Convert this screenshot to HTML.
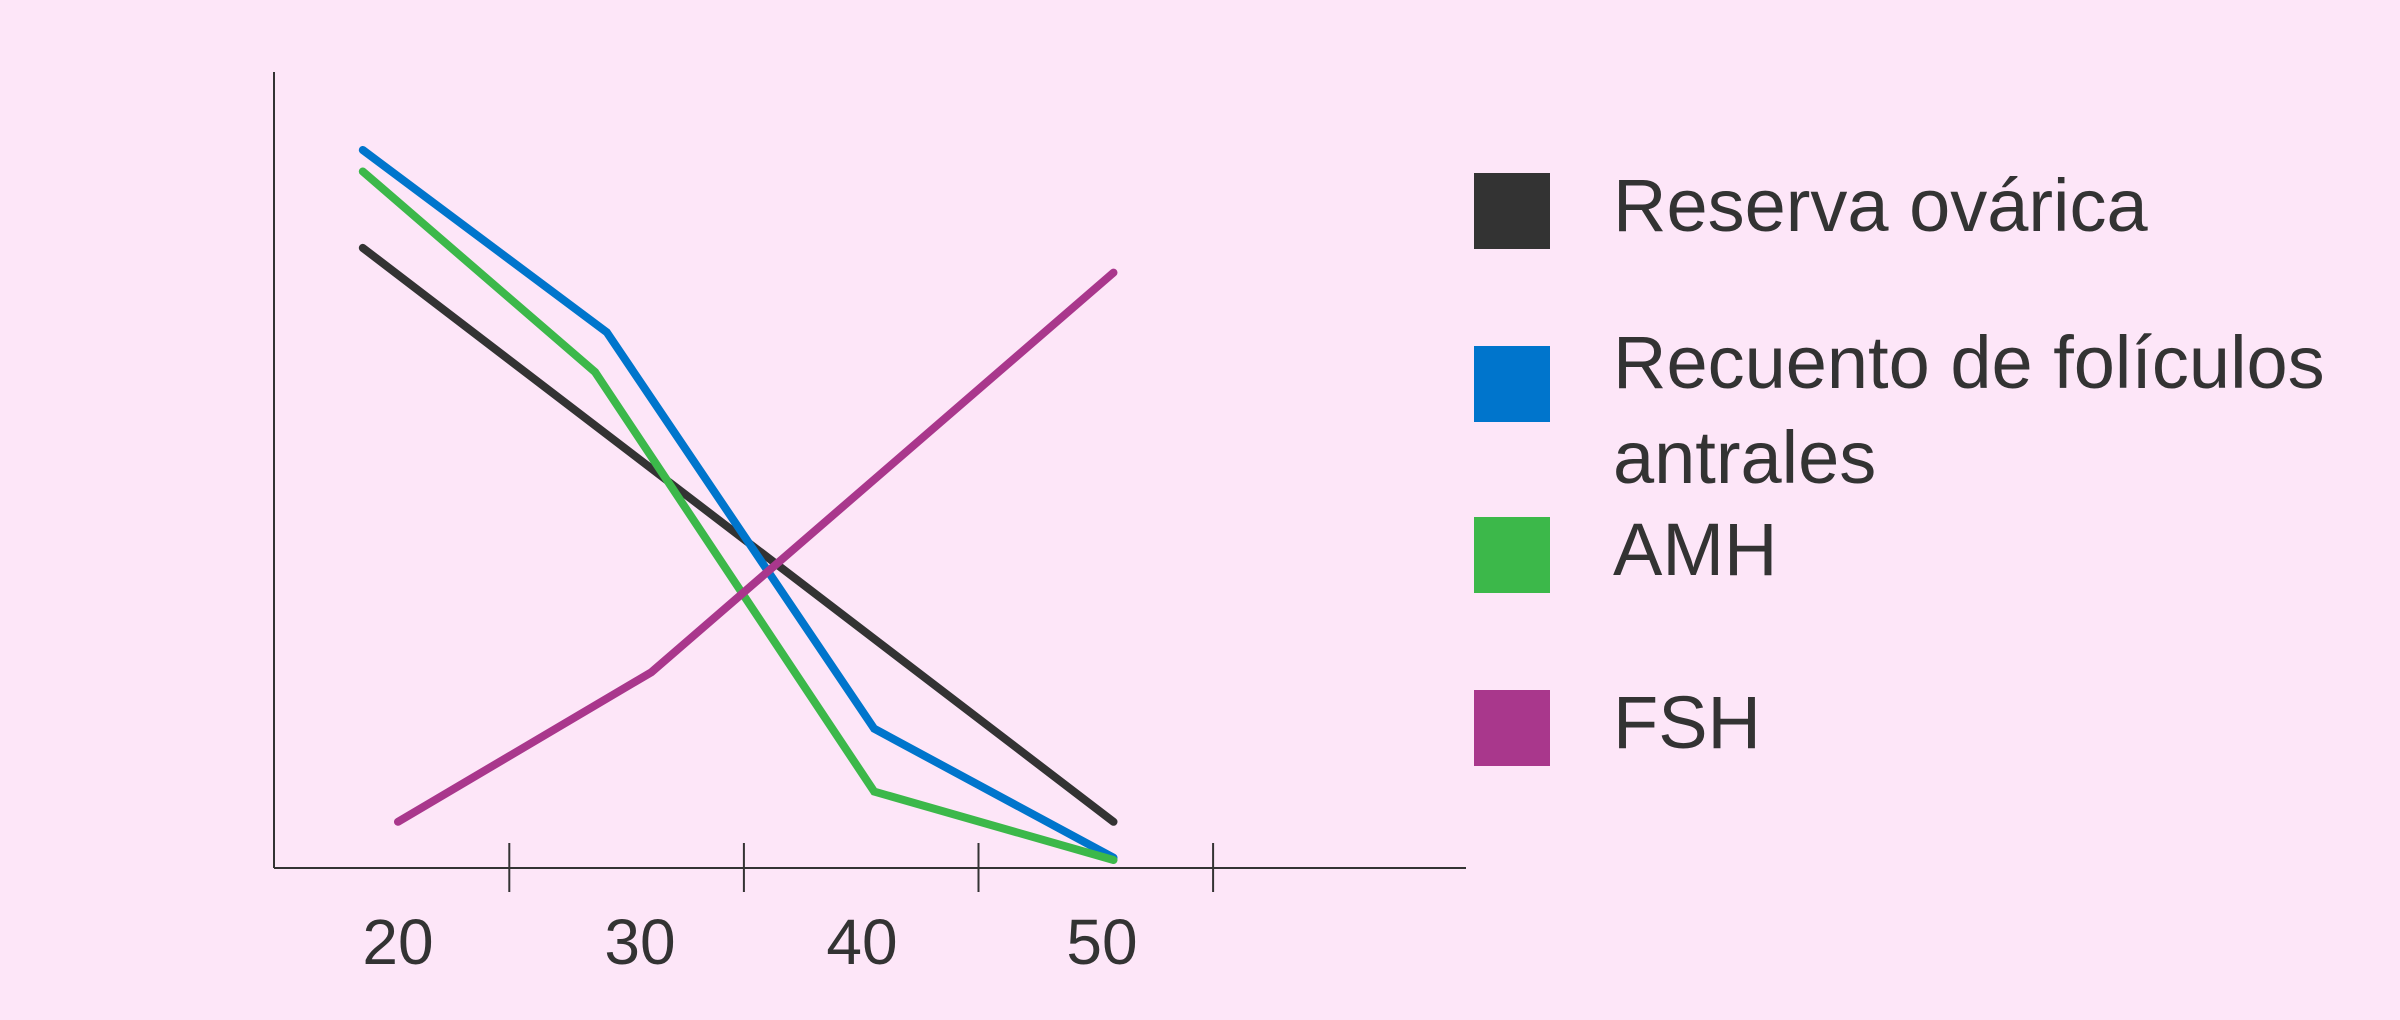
<!DOCTYPE html>
<html><head><meta charset="utf-8"><style>
html,body{margin:0;padding:0;background:#fde6f8;}
svg{display:block;font-family:"Liberation Sans",sans-serif;}
</style></head><body>
<svg width="2400" height="1020" viewBox="0 0 2400 1020">
<rect width="2400" height="1020" fill="#fde6f8"/>
<g id="axes"></g>
<g id="series"></g>
<g id="legend"></g>
</svg>
<script>
const ages=[20,30,40,50];
const tickAges=[25,35,45,55];
const reservaX=[18.5,50.5];
const reservaY=[77.9,5.8];
const rfaX=[18.5,28.9,40.3,50.5];
const rfaY=[90.2,67.3,17.5,1.3];
const amhX=[18.5,28.4,40.3,50.5];
const amhY=[87.5,62.3,9.6,1.0];
const fshX=[20,30.8,50.5];
const fshY=[5.8,24.6,74.8];
const legendLabels=[["Reserva ovárica"],["Recuento de folículos","antrales"],["AMH"],["FSH"]];
const labelX=[398,640,862,1102];

const NS="http://www.w3.org/2000/svg";
const xs=a=>398+(a-20)*23.46;
const ys=v=>868-v*7.96;
function mk(tag,attrs,parent){const e=document.createElementNS(NS,tag);for(const k in attrs)e.setAttribute(k,attrs[k]);parent.appendChild(e);return e;}
const axes=document.getElementById('axes');
let e=mk('line',{x1:274,y1:72,x2:274,y2:868,stroke:'#333','stroke-width':2},axes);


e=mk('line',{x1:274,y1:868,x2:1466,y2:868,stroke:'#333','stroke-width':2},axes);


tickAges.forEach(a=>{
  const t=mk('line',{x1:xs(a)-6,y1:843,x2:xs(a)-6,y2:892,stroke:'#333','stroke-width':2},axes);
  
  
});
ages.forEach((a,i)=>{
  const t=mk('text',{x:labelX[i],y:964,'text-anchor':'middle','font-size':64,fill:'#333'},axes);
  t.textContent=String(a);
  
  
});
const ser=document.getElementById('series');
const defs=[["reserva-ovarica-line",reservaX,reservaY,"#333333"],["antral-follicle-count-line",rfaX,rfaY,"#0075cc"],["amh-line",amhX,amhY,"#3cb84a"],["fsh-line",fshX,fshY,"#a9378c"]];
defs.forEach(d=>{
  const pts=d[1].map((a,i)=>xs(a).toFixed(1)+','+ys(d[2][i]).toFixed(1)).join(' ');
  const p=mk('polyline',{points:pts,fill:'none',stroke:d[3],'stroke-width':8,'stroke-linecap':'round','stroke-linejoin':'miter'},ser);
  
  
});
const leg=document.getElementById('legend');
const sqY=[173,346,517,690];
const colors=["#333333","#0075cc","#3cb84a","#a9378c"];
const names=["legend-reserva-ovarica","legend-antral-follicle-count","legend-amh","legend-fsh"];
sqY.forEach((y,i)=>{
  const g=mk('g',{},leg);
  
  
  const r=mk('rect',{x:1474,y:y,width:76,height:76,fill:colors[i]},g);
  
  
  legendLabels[i].forEach((s,j)=>{
    const t=mk('text',{x:1613,y:(i==1?y+42:y+58)+j*95,'font-size':74,fill:'#333'},g);
    t.textContent=s;
    
    
  });
});
</script>
</body></html>
